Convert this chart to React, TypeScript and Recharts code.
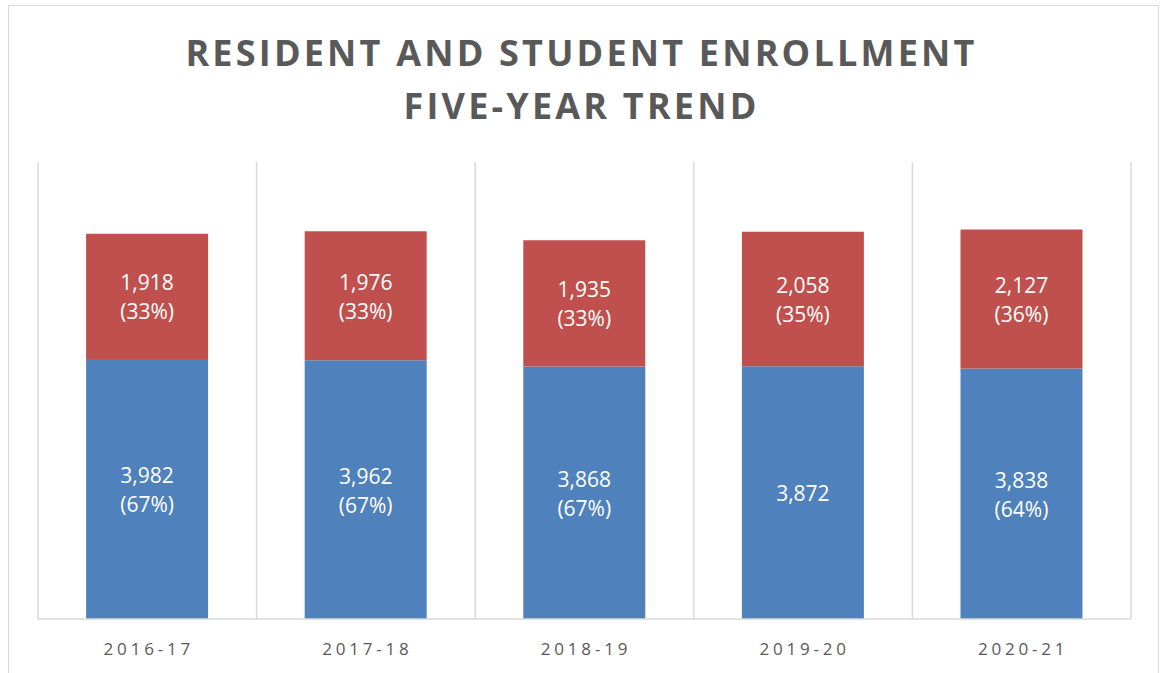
import React from 'react';
import { BarChart, Bar, XAxis, YAxis, CartesianGrid, LabelList } from 'recharts';

const categories = ['2016-17', '2017-18', '2018-19', '2019-20', '2020-21'];
const residents = [3982, 3962, 3868, 3872, 3838];
const students = [1918, 1976, 1935, 2058, 2127];
const residentPct: (number | null)[] = [67, 67, 67, null, 64];
const studentPct: (number | null)[] = [33, 33, 33, 35, 36];
const yTicks = [0, 7000];

const data = categories.map((c, i) => ({
  name: c,
  residents: residents[i],
  students: students[i],
  rPct: residentPct[i],
  sPct: studentPct[i],
}));

const W = 1163;
const H = 673;
const FONT = '"Open Sans", "Noto Sans", sans-serif';

const makeLabel = (pctKey: 'rPct' | 'sPct') => (props: any) => {
  const { x, y, width, height, value, index } = props;
  const pct = data[index][pctKey];
  const cx = x + width / 2;
  const cy = y + height / 2;
  const txt = Number(value).toLocaleString('en-US');
  if (pct == null) {
    return (
      <text x={cx} y={cy} fill="#fff" fontSize={21} fontFamily={FONT} textAnchor="middle" dominantBaseline="central">
        {txt}
      </text>
    );
  }
  return (
    <g>
      <text x={cx} y={cy - 14} fill="#fff" fontSize={21} fontFamily={FONT} textAnchor="middle" dominantBaseline="central">
        {txt}
      </text>
      <text x={cx} y={cy + 15} fill="#fff" fontSize={21} fontFamily={FONT} textAnchor="middle" dominantBaseline="central">
        {`(${pct}%)`}
      </text>
    </g>
  );
};

const Tick = (props: any) => {
  const { x, y, payload } = props;
  return (
    <text x={x + 1.5} y={y + 28} fill="#595959" fontSize={17} fontFamily={FONT} textAnchor="middle" letterSpacing={3.8}>
      {payload.value}
    </text>
  );
};

export default function App() {
  return (
    <div style={{ position: 'absolute', left: 0, top: 0, width: W, height: H, background: '#fff', overflow: 'hidden' }}>
      <div
        style={{
          position: 'absolute',
          left: 8,
          top: 5,
          width: 1151,
          height: 700,
          borderLeft: '1.5px solid #d9d9d9',
          borderTop: '1.5px solid #d9d9d9',
          borderRight: '1.5px solid #d9d9d9',
          boxSizing: 'border-box',
        }}
      />
      <div
        style={{
          position: 'absolute',
          left: 0,
          top: 26,
          width: W,
          textAlign: 'center',
          fontFamily: FONT,
          fontWeight: 700,
          fontSize: 36,
          letterSpacing: 3.2,
          color: '#595959',
          lineHeight: '53px',
        }}
      >
        <div>RESIDENT AND STUDENT ENROLLMENT</div>
        <div>FIVE-YEAR TREND</div>
      </div>
      <div style={{ position: 'absolute', left: 0, top: 0 }}>
        <BarChart
          width={W}
          height={H}
          data={data}
          margin={{ top: 162, right: 32, bottom: 24, left: 38 }}
          barCategoryGap="22%"
        >
          <CartesianGrid
            horizontal={false}
            stroke="#d9d9d9"
            strokeWidth={1.5}
            verticalCoordinatesGenerator={({ offset }: any) =>
              categories.map((_, i) => offset.left + (i * offset.width) / categories.length).concat([offset.left + offset.width])
            }
          />
          <YAxis hide domain={[0, 7000]} ticks={yTicks} width={0} />
          <XAxis
            dataKey="name"
            height={30}
            axisLine={{ stroke: '#d9d9d9', strokeWidth: 1.5 }}
            tickLine={false}
            tick={<Tick />}
          />
          <Bar dataKey="residents" stackId="a" fill="#4f81bd" isAnimationActive={false}>
            <LabelList dataKey="residents" content={makeLabel('rPct')} />
          </Bar>
          <Bar dataKey="students" stackId="a" fill="#c0504d" isAnimationActive={false}>
            <LabelList dataKey="students" content={makeLabel('sPct')} />
          </Bar>
        </BarChart>
      </div>
    </div>
  );
}
